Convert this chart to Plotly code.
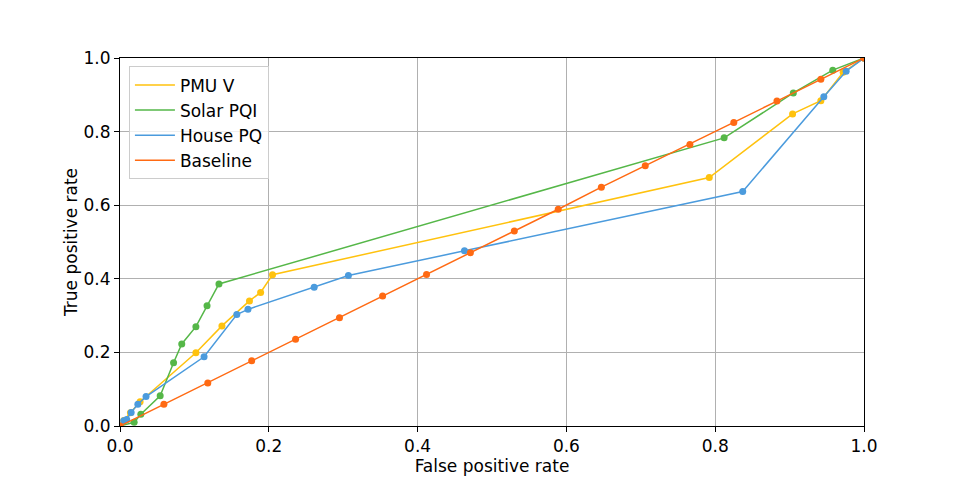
import plotly.graph_objects as go

# ROC curves
pmu_fpr = [0.0, 0.005, 0.014, 0.027, 0.102, 0.137, 0.174, 0.189, 0.205, 0.792, 0.904, 0.942, 0.972, 1.0]
pmu_tpr = [0.0, 0.015, 0.036, 0.066, 0.199, 0.272, 0.340, 0.363, 0.411, 0.675, 0.848, 0.884, 0.961, 1.0]

solar_fpr = [0.0, 0.019, 0.028, 0.054, 0.072, 0.083, 0.102, 0.117, 0.133, 0.812, 0.905, 0.958, 1.0]
solar_tpr = [0.0, 0.010, 0.032, 0.082, 0.172, 0.223, 0.270, 0.327, 0.386, 0.783, 0.905, 0.967, 1.0]

house_fpr = [0.0, 0.005, 0.009, 0.015, 0.024, 0.035, 0.113, 0.157, 0.172, 0.261, 0.307, 0.463, 0.837, 0.946, 0.976, 1.0]
house_tpr = [0.0, 0.014, 0.018, 0.037, 0.059, 0.080, 0.188, 0.303, 0.317, 0.377, 0.409, 0.476, 0.637, 0.895, 0.964, 1.0]

base_fpr = [0.0, 0.059, 0.118, 0.177, 0.236, 0.295, 0.353, 0.412, 0.471, 0.530, 0.589, 0.647, 0.706, 0.766, 0.825, 0.883, 0.942, 1.0]
base_tpr = [0.0, 0.059, 0.117, 0.177, 0.236, 0.294, 0.353, 0.412, 0.471, 0.530, 0.589, 0.649, 0.707, 0.765, 0.825, 0.883, 0.942, 1.0]

tick_vals = [0.0, 0.2, 0.4, 0.6, 0.8, 1.0]
tick_text = ["0.0", "0.2", "0.4", "0.6", "0.8", "1.0"]

series = [
    ("PMU V", pmu_fpr, pmu_tpr, "#FFC20E"),
    ("Solar PQI", solar_fpr, solar_tpr, "#55B748"),
    ("House PQ", house_fpr, house_tpr, "#4B9BDD"),
    ("Baseline", base_fpr, base_tpr, "#FF6A13"),
]

FONT_SIZE = 17

fig = go.Figure()
for name, xs, ys, color in series:
    # line only in the legend, like matplotlib's default handle
    fig.add_trace(go.Scatter(x=xs, y=ys, mode="lines", name=name,
                             line=dict(color=color, width=1.5)))
    fig.add_trace(go.Scatter(x=xs, y=ys, mode="markers", name=name, showlegend=False,
                             marker=dict(color=color, size=7)))

axis_style = dict(
    range=[0, 1], tickvals=tick_vals, ticktext=tick_text,
    showgrid=True, gridcolor="#b0b0b0", gridwidth=1,
    showline=True, linecolor="black", linewidth=1, mirror=True,
    ticks="outside", ticklen=5, tickcolor="black",
    zeroline=False, automargin=False,
    tickfont=dict(size=FONT_SIZE, color="black"),
)

fig.update_xaxes(title=dict(text="False positive rate", font=dict(size=FONT_SIZE, color="black"), standoff=0),
                 **axis_style)
fig.update_yaxes(title=dict(text="True positive rate", font=dict(size=FONT_SIZE, color="black"), standoff=1),
                 **axis_style)

# page body has an 8px margin, so the figure is 8px smaller than the window
fig.update_layout(
    width=952, height=471,
    margin=dict(l=112, r=96, t=50, b=53),
    plot_bgcolor="white", paper_bgcolor="white",
    font=dict(family="DejaVu Sans", color="black"),
    legend=dict(x=0.012, y=0.977, xanchor="left", yanchor="top",
                bgcolor="rgba(255,255,255,0.8)", bordercolor="#cccccc", borderwidth=1,
                font=dict(size=FONT_SIZE), tracegroupgap=0, itemwidth=40),
)

fig.write_html("out.html")
